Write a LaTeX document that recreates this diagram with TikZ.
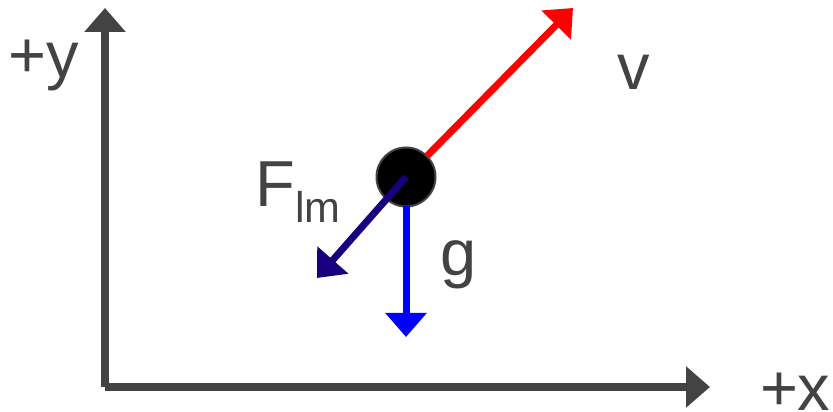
\documentclass[tikz,border=0pt]{standalone}
\usepackage{fontspec}
\setmainfont{Liberation Sans}
\usetikzlibrary{arrows.meta}
\definecolor{ejeGris}{HTML}{434343}
\definecolor{velRojo}{HTML}{FF0000}
\definecolor{gravAzul}{HTML}{0000FF}
\definecolor{fuerzaMarino}{HTML}{18007F}

\begin{document}
\begin{tikzpicture}[x=1pt, y=1pt, every node/.style={inner sep=0pt, outer sep=0pt},
    punta/.style={-{Triangle[length=24pt, width=40pt]}},
    eje/.style={punta, ejeGris, line width=8pt},
    vector/.style={punta, line width=7pt},
    bola/.style={circle, fill=black, draw=ejeGris, line width=2pt, minimum size=59pt},
    etiqueta/.style={text=ejeGris, anchor=base west, font=\fontsize{65}{65}\selectfont}]
    \useasboundingbox (0,0) rectangle (833,412);
    \coordinate (origen) at (105,25);
    \coordinate (yfin) at (105,404);
    \coordinate (xfin) at (710,25);
    \draw[eje] (origen) -- (yfin);
    \draw[eje] (origen) -- (xfin);
    \node[bola] (bola) at (406,235) {};
    \coordinate (vfin) at (573,404);
    \coordinate (ffin) at (317,134);
    \coordinate (gfin) at (406,75);
    \draw[vector, velRojo] (bola.45) -- (vfin);
    \draw[vector, gravAzul] (bola.south) -- (gfin);
    \draw[vector, fuerzaMarino] (bola.center) -- (ffin);
    \node[etiqueta] (ylab) at (9,334.5) {+y};
    \node[etiqueta] (xlab) at (760,1) {+x};
    \node[etiqueta] (vlab) at (617,322) {v};
    \node[etiqueta] (glab) at (440.5,136) {g};
    \node[etiqueta] (flab) at (255.5,205.3) {F\raisebox{-16pt}{\fontsize{43}{43}\selectfont lm}};
\end{tikzpicture}
\end{document}
